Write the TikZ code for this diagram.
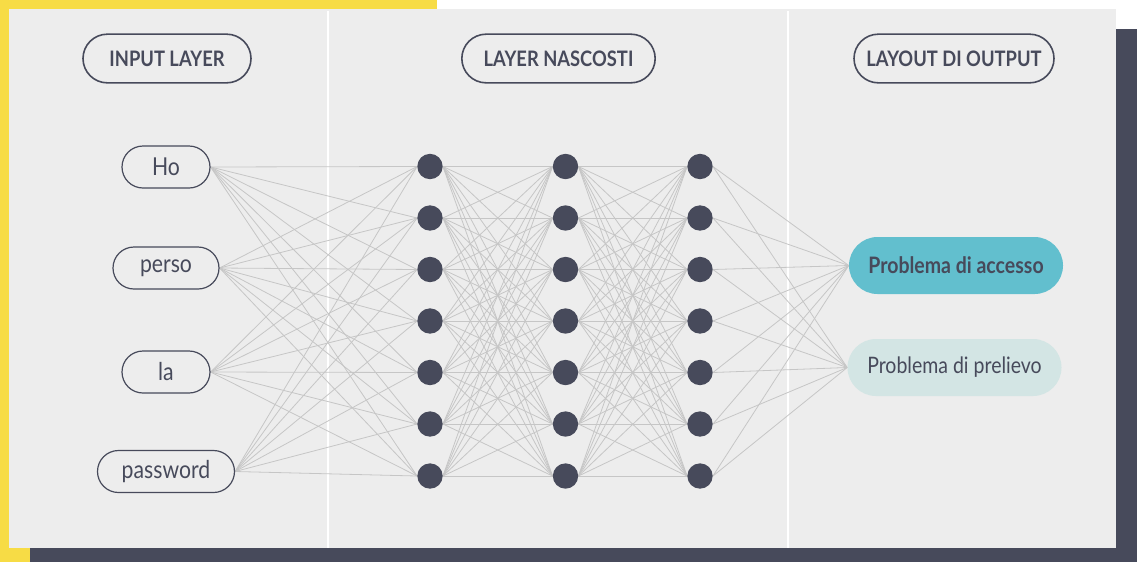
\documentclass[tikz,border=0pt]{standalone}
\usepackage{fontspec}
\setmainfont{Lato}[FakeStretch=0.86]
\usetikzlibrary{shapes.misc}
\definecolor{yel}{HTML}{F7DC45}
\definecolor{dk}{HTML}{474A5B}
\definecolor{panel}{HTML}{EDEDED}
\definecolor{teal}{HTML}{62BFCE}
\definecolor{pale}{HTML}{D3E5E4}
\definecolor{edgec}{HTML}{C6C6C6}
\pgfdeclarelayer{bg}
\pgfdeclarelayer{edges}
\pgfsetlayers{bg,edges,main}
\tikzset{
  hdr/.style={rounded rectangle, draw=dk, line width=1.2pt, fill=panel, text=dk,
    font=\fontsize{16}{18}\selectfont\bfseries, minimum height=36.5pt, inner sep=0pt},
  inp/.style={rounded rectangle, draw=dk, line width=0.9pt, fill=panel, text=dk,
    font=\fontsize{18.5}{20}\selectfont, minimum height=31.5pt, inner sep=0pt},
  neuron/.style={circle, fill=dk, minimum size=19pt, inner sep=0pt},
  outbox/.style={rounded rectangle, text=dk, minimum height=42.75pt, minimum width=160.5pt, inner sep=0pt},
  edge/.style={draw=edgec, line width=0.6pt}
}
\begin{document}
\begin{tikzpicture}[x=0.75pt,y=-0.75pt]
\useasboundingbox (0,0) rectangle (1137,562);
\begin{pgfonlayer}{bg}
\fill[white] (0,0) rectangle (1137,562);
\fill[yel] (0,0) rectangle (437,562);
\fill[dk] (30,29) rectangle (1137,562);
\fill[panel] (9,9) rectangle (1116,548);
\draw[white, line width=1.5pt] (328,11) -- (328,548);
\draw[white, line width=1.5pt] (788,11) -- (788,548);
\end{pgfonlayer}
% headers
\node[hdr, minimum width=126pt] (h1) at (167,58.5) {INPUT LAYER};
\node[hdr, minimum width=145pt] (h2) at (558.5,58.5) {LAYER NASCOSTI};
\node[hdr, minimum width=150pt] (h3) at (954,58.5) {LAYOUT DI OUTPUT};
% inputs
\node[inp, minimum width=66pt] (i1) at (166,167) {Ho};
\node[inp, minimum width=79.5pt] (i2) at (166,268) {perso};
\node[inp, minimum width=66pt] (i3) at (166,372) {la};
\node[inp, minimum width=102.75pt] (i4) at (166,471.5) {password};
% hidden
\foreach \c/\x in {1/430,2/565.5,3/700}{
  \foreach \r/\y in {1/166.5,2/218,3/269.5,4/321,5/372.5,6/424,7/476}{
    \node[neuron] (n\c\r) at (\x,\y) {};
  }
}
% outputs
\node[outbox, fill=teal, font=\fontsize{17}{19}\selectfont\bfseries] (o1) at (956,265.5) {Problema di accesso};
\node[outbox, fill=pale, font=\fontsize{17}{19}\selectfont] (o2) at (954.5,367.5) {Problema di prelievo};
% edges
\begin{pgfonlayer}{edges}
\foreach \i in {1,...,4}{\foreach \r in {1,...,7}{\draw[edge] (i\i.east) -- (n1\r.west);}}
\foreach \a in {1,...,7}{\foreach \b in {1,...,7}{
  \draw[edge] (n1\a.east) -- (n2\b.west);
  \draw[edge] (n2\a.east) -- (n3\b.west);}}
\foreach \a in {1,...,7}{\foreach \o in {1,2}{\draw[edge] (n3\a.east) -- (o\o.west);}}
\end{pgfonlayer}
\end{tikzpicture}
\end{document}
